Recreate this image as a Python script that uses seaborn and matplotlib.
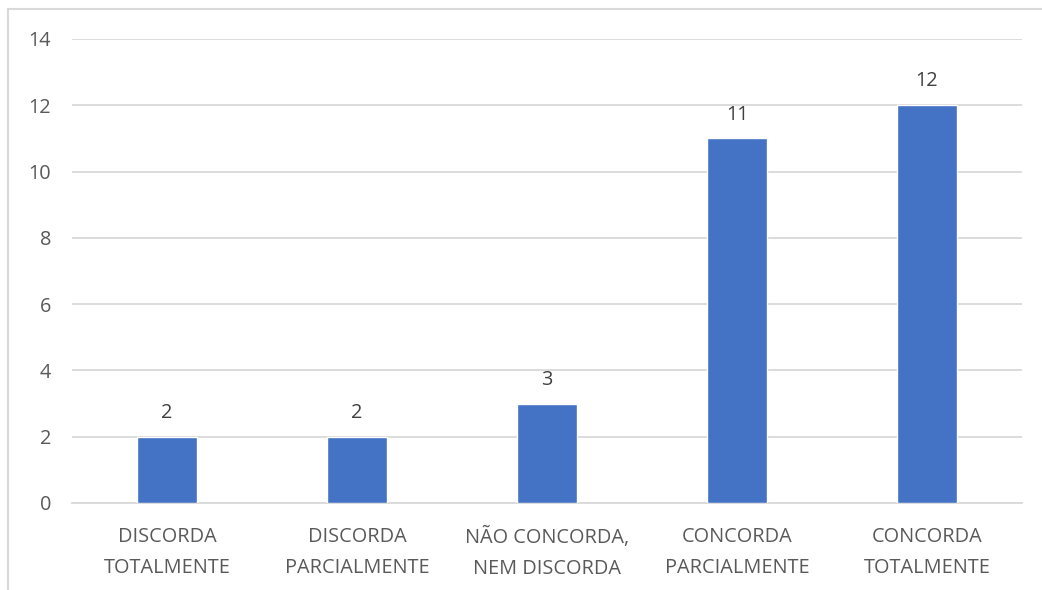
import matplotlib
matplotlib.use("Agg")
import matplotlib.pyplot as plt
import matplotlib.patches as mpatches
import seaborn as sns
import pandas as pd

categories = [
    "DISCORDA\nTOTALMENTE",
    "DISCORDA\nPARCIALMENTE",
    "NÃO CONCORDA,\nNEM DISCORDA",
    "CONCORDA\nPARCIALMENTE",
    "CONCORDA\nTOTALMENTE",
]
values = [2, 2, 3, 11, 12]
y_ticks = [0, 2, 4, 6, 8, 10, 12, 14]

sns.set_theme(style="white")
plt.rcParams["font.family"] = ["Open Sans", "DejaVu Sans"]

text_color = "#595959"
grid_color = "#D9D9D9"
bar_color = "#4472C4"

df = pd.DataFrame({"categoria": categories, "valor": values})

fig = plt.figure(figsize=(10.42, 5.90), dpi=100)
ax = fig.add_axes([72 / 1042, 87 / 590, 950 / 1042, 464 / 590])

sns.barplot(data=df, x="categoria", y="valor", color=bar_color,
            width=0.316, saturation=1, ax=ax, zorder=3)

ax.set_ylim(0, 14)
ax.set_yticks(y_ticks)
ax.set_xlim(-0.5, len(categories) - 0.5)
ax.yaxis.grid(True, color=grid_color, linewidth=1.3, zorder=0)
ax.set_axisbelow(True)
for side in ["top", "right", "left"]:
    ax.spines[side].set_visible(False)
ax.spines["bottom"].set_color(grid_color)
ax.spines["bottom"].set_linewidth(1.3)

ax.set_xlabel("")
ax.set_ylabel("")
ax.tick_params(axis="both", length=0, colors=text_color, labelsize=14.3)
ax.tick_params(axis="y", pad=15)
ax.tick_params(axis="x", pad=17)
for lbl in ax.get_xticklabels():
    lbl.set_linespacing(1.75)

for container in ax.containers:
    ax.bar_label(container, labels=[str(v) for v in values], padding=10,
                 color="#404040", fontsize=14.3)

# Chart area outline
fig.add_artist(mpatches.Rectangle((8 / 1042, -0.05), 1.1, (590 - 9) / 590 + 0.05,
                                  transform=fig.transFigure, fill=False,
                                  edgecolor=grid_color, linewidth=1.5))

fig.savefig("out.png", dpi=100, facecolor="white")
